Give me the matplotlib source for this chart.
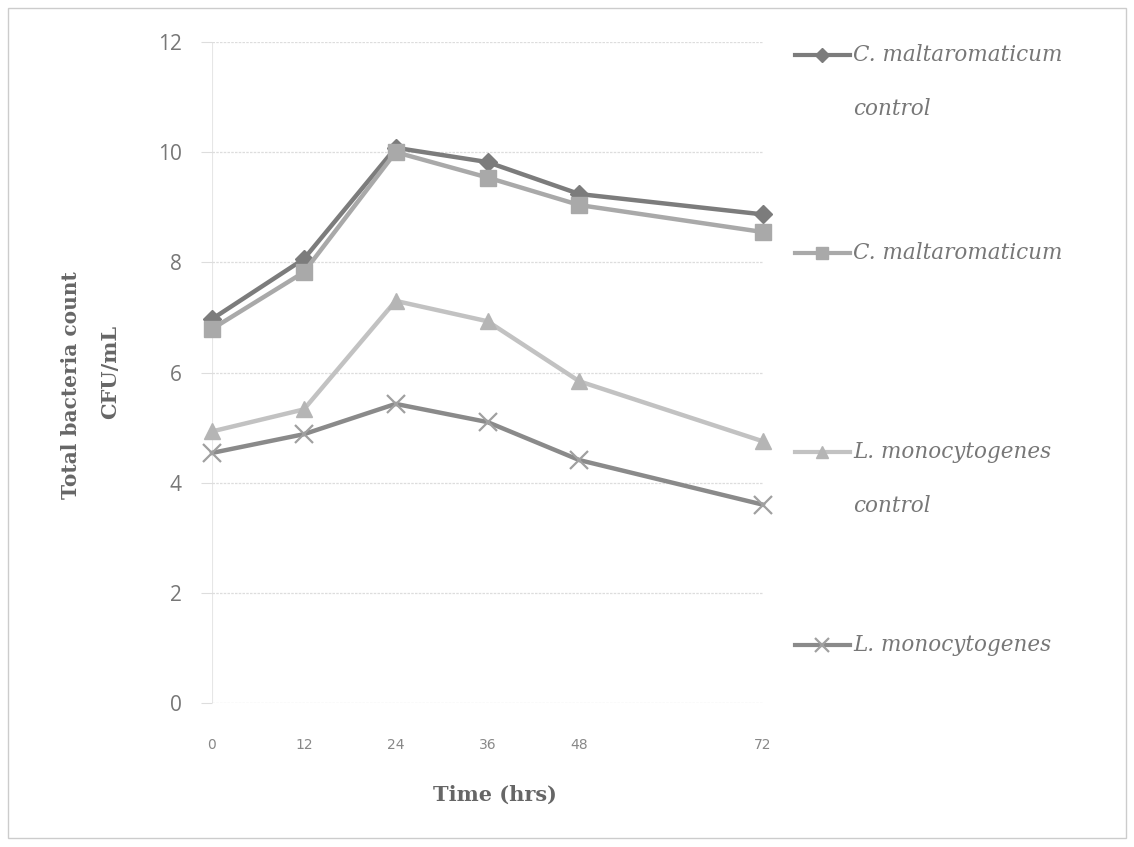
import matplotlib
matplotlib.use("Agg")
import matplotlib.pyplot as plt
from matplotlib.lines import Line2D
from matplotlib.patches import Rectangle

time_hrs = [0, 12, 24, 36, 48, 72]
cm_control = [6.97, 8.06, 10.08, 9.82, 9.24, 8.87]
cm_treat = [6.79, 7.82, 10.0, 9.54, 9.04, 8.55]
lm_control = [4.93, 5.33, 7.30, 6.93, 5.84, 4.75]
lm_treat = [4.54, 4.88, 5.43, 5.10, 4.41, 3.60]
series_labels = ["C. maltaromaticum\ncontrol", "C. maltaromaticum",
                 "L. monocytogenes\ncontrol", "L. monocytogenes"]
y_ticks = [0, 2, 4, 6, 8, 10, 12]

styles = [
    dict(color="#7c7c7c", marker="D", ms=9, mfc="#7c7c7c", mec="#7c7c7c"),
    dict(color="#a9a9a9", marker="s", ms=11, mfc="#a9a9a9", mec="#a9a9a9"),
    dict(color="#c2c2c2", marker="^", ms=11, mfc="#b5b5b5", mec="#b5b5b5"),
    dict(color="#8a8a8a", marker="x", ms=13, mfc="none", mec="#a0a0a0", mew=1.6),
]
data = [cm_control, cm_treat, lm_control, lm_treat]

fig = plt.figure(figsize=(11.34, 8.47), dpi=100)
ax = fig.add_axes([212/1134, 1-703/847, (763-212)/1134, (703-42)/847])

for vals, st in zip(data, styles):
    ax.plot(time_hrs, vals, lw=3.2, clip_on=False, zorder=3, **st)

ax.set_xlim(0, 72)
ax.set_ylim(0, 12)
ax.set_xticks(time_hrs)
ax.set_xticklabels([str(t) for t in time_hrs], fontsize=10, color="#888888",
                   family="Liberation Sans Narrow")
ax.set_yticks(y_ticks)
ax.set_yticklabels([str(v) for v in y_ticks], fontsize=15, color="#777777",
                   family="Open Sans")
ax.grid(axis="y", color="#dddddd", lw=0.9, linestyle=(0, (2, 1)))
ax.axvline(0, color="#e6e6e6", lw=0.8, zorder=0)
for s in ax.spines.values():
    s.set_visible(False)
ax.tick_params(axis="y", length=8, color="#dddddd", pad=14)
ax.tick_params(axis="x", length=0, pad=25)

serif = "DejaVu Serif"
fig.text(495/1134, 1-795/847, "Time (hrs)", ha="center", va="center",
         fontsize=15, fontweight="bold", family=serif, color="#666666")
fig.text(71/1134, 1-385/847, "Total bacteria count", ha="center", va="center",
         rotation=90, fontsize=14.5, fontweight="bold", family=serif,
         color="#666666")
fig.text(110/1134, 1-372/847, "CFU/mL", ha="center", va="center",
         rotation=90, fontsize=15, fontweight="bold", family=serif,
         color="#666666")

# legend, drawn manually to match layout
leg_y = [55, 253, 452, 645]
for lab, st, yy in zip(series_labels, styles, leg_y):
    yf = 1 - yy/847
    ln = Line2D([795/1134, 850/1134], [yf, yf], transform=fig.transFigure,
                lw=3.0, color=st["color"])
    fig.add_artist(ln)
    mk = Line2D([822/1134], [yf], transform=fig.transFigure, lw=0,
                marker=st["marker"], ms=st["ms"]*0.8, mfc=st["mfc"], mec=st["mec"],
                mew=st.get("mew", 1.0))
    fig.add_artist(mk)
    lines = lab.split("\n")
    for i, t in enumerate(lines):
        fig.text(853/1134, 1-(yy + i*54)/847, t, ha="left", va="center",
                 fontsize=15.5, style="italic", family=serif,
                 color="#777777")

fig.add_artist(Rectangle((8/1134, 1-838/847), 1118/1134, 830/847,
                         transform=fig.transFigure, fill=False,
                         edgecolor="#cccccc", lw=1.0))

fig.savefig("out.png", dpi=100)
